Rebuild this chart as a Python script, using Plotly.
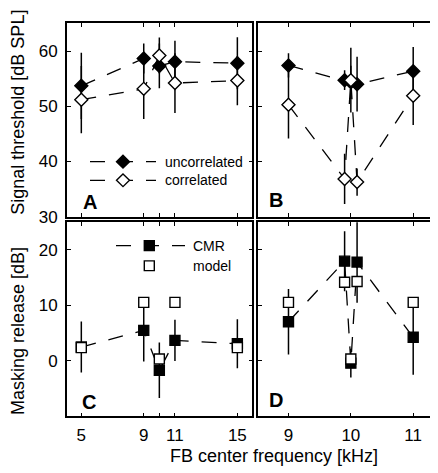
import plotly.graph_objects as go

# ---------------- data ----------------
freq_wide = [5, 9, 10, 11, 15]
uncorr_wide = [53.7, 58.65, 57.3, 58.07, 57.8]
uncorr_wide_err = [6.0, 2.7, 4.05, 3.8, 4.7]
corr_wide = [51.2, 53.15, 59.2, 54.2, 54.65]
corr_wide_err = [6.1, 5.45, 3.26, 5.4, 4.45]

freq_narrow = [9, 9.9, 10, 10.1, 11]
uncorr_narrow = [57.4, 54.73, 54.33, 54.0, 56.36]
uncorr_narrow_err = [2.2, 1.8, 3.0, 4.95, 4.35]
corr_narrow = [50.26, 36.85, 54.73, 36.27, 51.9]
corr_narrow_err = [6.1, 4.55, 5.85, 2.45, 5.3]

cmr_wide = [2.5, 5.5, -1.7, 3.7, 3.1]
cmr_wide_err = [4.6, 5.6, 5.0, 3.7, 4.4]
model_wide = [2.4, 10.55, 0.35, 10.55, 2.4]

cmr_narrow = [7.05, 17.97, -0.4, 17.8, 4.25]
cmr_narrow_err = [5.9, 5.4, 2.6, 7.3, 6.75]
model_narrow = [10.55, 14.17, 0.35, 14.3, 10.55]

wide_ticks = [5, 9, 10, 11, 15]
wide_ticktext = ["5", "9", "", "11", "15"]
narrow_ticks = [9, 10, 11]
narrow_ticktext = ["9", "10", "11"]
thr_ticks = [30, 40, 50, 60]
rel_ticks = [0, 10, 20]

# ---------------- style ----------------
W, H = 438, 473
FONT = "Liberation Sans"
DASH = "15px,13px"
LW = 1.3
AXLW = 1.5


def px(x):
    return x / W


def py(y):
    return 1 - y / H


fig = go.Figure()


def add_line(xa, ya, x, y):
    fig.add_trace(go.Scatter(
        x=x, y=y, mode="lines", xaxis=xa, yaxis=ya,
        line=dict(color="black", width=LW, dash=DASH),
        showlegend=False, hoverinfo="skip"))


def add_markers(xa, ya, x, y, err, symbol, filled, size):
    fig.add_trace(go.Scatter(
        x=x, y=y, mode="markers", xaxis=xa, yaxis=ya,
        marker=dict(symbol=symbol, size=size,
                    color="black" if filled else "white",
                    line=dict(color="black", width=1.4)),
        error_y=dict(type="data", array=err, visible=err is not None,
                     color="black", thickness=1.5, width=0),
        showlegend=False))


# Panel A
add_line("x", "y", freq_wide, uncorr_wide)
add_line("x", "y", freq_wide, corr_wide)
add_markers("x", "y", freq_wide, uncorr_wide, uncorr_wide_err, "diamond", True, 10)
add_markers("x", "y", freq_wide, corr_wide, corr_wide_err, "diamond", False, 10)

# Panel B
add_line("x2", "y2", freq_narrow, uncorr_narrow)
add_line("x2", "y2", freq_narrow, corr_narrow)
add_markers("x2", "y2", freq_narrow, uncorr_narrow, uncorr_narrow_err, "diamond", True, 10)
add_markers("x2", "y2", freq_narrow, corr_narrow, corr_narrow_err, "diamond", False, 10)

# Panel C
add_line("x3", "y3", freq_wide, cmr_wide)
add_markers("x3", "y3", freq_wide, cmr_wide, cmr_wide_err, "square", True, 10)
add_markers("x3", "y3", freq_wide, model_wide, None, "square", False, 10)

# Panel D
add_line("x4", "y4", freq_narrow, cmr_narrow)
add_markers("x4", "y4", freq_narrow, cmr_narrow, cmr_narrow_err, "square", True, 10)
add_markers("x4", "y4", freq_narrow, model_narrow, None, "square", False, 10)

# ---------------- axes ----------------
base = dict(showline=True, linecolor="black", linewidth=AXLW, mirror="ticks",
            ticks="inside", ticklen=4, tickwidth=1.3, tickcolor="black",
            showgrid=False, zeroline=False,
            tickfont=dict(family=FONT, size=17, color="black"))

h = AXLW / 2  # axis lines are drawn outside the domain
dom_left = [px(58 + h), px(245 - h)]
dom_right = [px(249 + h), px(437 - h)]
dom_top = [py(214 - h), py(15 + h)]
dom_bot = [py(418 - h), py(218 + h)]

fig.update_layout(
    xaxis=dict(base, domain=dom_left, anchor="y", range=[4.066, 15.954],
               tickvals=wide_ticks, showticklabels=False),
    yaxis=dict(base, domain=dom_top, anchor="x", range=[30, 65],
               tickvals=thr_ticks, ticklabelstandoff=4),
    xaxis2=dict(base, domain=dom_right, anchor="y2", range=[8.507, 11.498],
                tickvals=narrow_ticks, showticklabels=False),
    yaxis2=dict(base, domain=dom_top, anchor="x2", range=[30, 65],
                tickvals=thr_ticks, showticklabels=False),
    xaxis3=dict(base, domain=dom_left, anchor="y3", range=[4.066, 15.954],
                tickvals=wide_ticks, ticktext=wide_ticktext, ticklabelstandoff=2),
    yaxis3=dict(base, domain=dom_bot, anchor="x3", range=[-10, 25],
                tickvals=rel_ticks, ticklabelstandoff=4),
    xaxis4=dict(base, domain=dom_right, anchor="y4", range=[8.507, 11.498],
                tickvals=narrow_ticks, ticktext=narrow_ticktext, ticklabelstandoff=2),
    yaxis4=dict(base, domain=dom_bot, anchor="x4", range=[-10, 25],
                tickvals=rel_ticks, showticklabels=False),
)

# ---------------- text ----------------
ann = []
title_font = dict(family=FONT, size=18, color="black")
ann.append(dict(text="Signal threshold [dB SPL]", x=px(10), y=py(107), xref="paper", yref="paper",
                textangle=-90, showarrow=False, xanchor="center", yanchor="middle", font=title_font))
ann.append(dict(text="Masking release [dB]", x=px(10), y=py(330), xref="paper", yref="paper",
                textangle=-90, showarrow=False, xanchor="center", yanchor="middle", font=title_font))
ann.append(dict(text="FB center frequency [kHz]", x=px(265.5), y=py(458), xref="paper", yref="paper",
                showarrow=False, xanchor="center", yanchor="middle", font=title_font))

letter_font = dict(family=FONT, size=20, color="black")
for lab, cx, cy in [("A", 81.5, 198.5), ("B", 268, 196), ("C", 81, 402.5), ("D", 268, 400.5)]:
    ann.append(dict(text="<b>%s</b>" % lab, x=px(cx), y=py(cy), xref="paper", yref="paper",
                    showarrow=False, xanchor="center", yanchor="middle", font=letter_font))

leg_font = dict(family=FONT, size=14, color="black")
legend_rows = [
    ("uncorrelated", 155, 157, "diamond", True, True),
    ("correlated", 155, 176, "diamond", False, True),
    ("CMR", 182.7, 242.7, "square", True, True),
    ("model", 182.7, 263.3, "square", False, False),
]
shapes = []
for text, tx, ty, sym, filled, line in legend_rows:
    ann.append(dict(text=text, x=px(tx), y=py(ty), xref="paper", yref="paper",
                    showarrow=False, xanchor="left", yanchor="middle", font=leg_font))
    if sym == "diamond":
        x0, x1, mx = 82, 148, 115
    else:
        x0, x1, mx = 108, 177, 141.3
    if line:
        shapes.append(dict(type="line", xref="paper", yref="paper",
                           x0=px(x0), x1=px(x1), y0=py(ty), y1=py(ty),
                           line=dict(color="black", width=LW, dash=DASH), layer="above"))
    if sym == "diamond":
        r = 6.5
        path = "M %f,%f L %f,%f L %f,%f L %f,%f Z" % (
            px(mx), py(ty - r), px(mx + r), py(ty), px(mx), py(ty + r), px(mx - r), py(ty))
    else:
        r = 5
        path = "M %f,%f L %f,%f L %f,%f L %f,%f Z" % (
            px(mx - r), py(ty - r), px(mx + r), py(ty - r), px(mx + r), py(ty + r), px(mx - r), py(ty + r))
    shapes.append(dict(type="path", xref="paper", yref="paper", path=path,
                       fillcolor="black" if filled else "white",
                       line=dict(color="black", width=1.4), layer="above"))

fig.update_layout(
    width=W, height=H, margin=dict(l=0, r=0, t=0, b=0),
    paper_bgcolor="white", plot_bgcolor="white",
    showlegend=False, annotations=ann, shapes=shapes,
    font=dict(family=FONT, color="black"),
)

fig.write_html("out.html")
